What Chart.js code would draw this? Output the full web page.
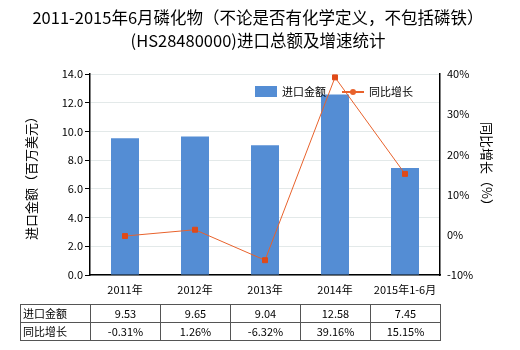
<!DOCTYPE html>
<html>
<head>
<meta charset="utf-8">
<script src="https://cdn.jsdelivr.net/npm/chart.js@4.4.0/dist/chart.umd.min.js"></script>
<style>
  body { margin: 0; background: #fff; }
  #wrap { position: relative; width: 520px; height: 350px; }
  #chart { position: absolute; left: 0; top: 0; }
  table {
    position: absolute; left: 20px; top: 304px;
    border-collapse: collapse;
    font-family: "Noto Sans CJK SC", "Noto Sans", sans-serif;
    font-size: 11px; color: #000;
  }
  td { border: 1px solid #555; height: 16px; padding: 0; line-height: 17px; text-align: center; width: 69px; }
  td.head { text-align: left; padding-left: 2px; width: 67px; }
</style>
</head>
<body>
<div id="wrap">
  <canvas id="chart" width="520" height="350"></canvas>
  <table id="tbl"></table>
</div>
<script>
// 数据
const years = ['2011年', '2012年', '2013年', '2014年', '2015年1-6月'];
const importValue = [9.53, 9.65, 9.04, 12.58, 7.45];   // 百万美元
const growthRate = [-0.31, 1.26, -6.32, 39.16, 15.15]; // %

const FONT = '"Noto Sans CJK SC", "Noto Sans", sans-serif';
const barColor = '#548dd4';
const lineColor = '#e8622c';

// 标题、轴标题、图例
const decorations = {
  id: 'decorations',
  afterDraw(chart) {
    const ctx = chart.ctx;
    ctx.save();
    ctx.fillStyle = '#000';
    ctx.textAlign = 'center';
    ctx.textBaseline = 'middle';
    ctx.font = '16.5px ' + FONT;
    ctx.fillText('2011-2015年6月磷化物（不论是否有化学定义，不包括磷铁）', 258, 18);
    ctx.fillText('(HS28480000)进口总额及增速统计', 258, 41);

    ctx.font = '13px ' + FONT;
    ctx.save();
    ctx.translate(31, 175);
    ctx.rotate(-Math.PI / 2);
    ctx.fillText('进口金额（百万美元）', 0, 0);
    ctx.restore();
    ctx.save();
    ctx.translate(487, 167);
    ctx.rotate(Math.PI / 2);
    ctx.fillText('同比增长（%）', 0, 0);
    ctx.restore();

    // 图例
    ctx.textAlign = 'left';
    ctx.font = '11px ' + FONT;
    ctx.fillStyle = barColor;
    ctx.fillRect(255, 86, 22, 11);
    ctx.fillStyle = '#000';
    ctx.fillText(chart.data.datasets[1].label, 282, 92);
    ctx.strokeStyle = lineColor;
    ctx.lineWidth = 2;
    ctx.beginPath();
    ctx.moveTo(342, 92);
    ctx.lineTo(364, 92);
    ctx.stroke();
    ctx.fillStyle = lineColor;
    ctx.beginPath();
    ctx.arc(353, 92, 3, 0, Math.PI * 2);
    ctx.fill();
    ctx.fillStyle = '#000';
    ctx.fillText(chart.data.datasets[0].label, 369, 92);
    ctx.restore();
  }
};

new Chart(document.getElementById('chart'), {
  data: {
    labels: years,
    datasets: [
      {
        type: 'line',
        label: '同比增长',
        data: growthRate,
        yAxisID: 'y1',
        borderColor: lineColor,
        borderWidth: 1,
        pointStyle: 'rect',
        pointRadius: 3.5,
        pointBackgroundColor: '#e04a18',
        pointBorderColor: '#e04a18',
        tension: 0,
        order: 0
      },
      {
        type: 'bar',
        label: '进口金额',
        data: importValue,
        yAxisID: 'y',
        backgroundColor: barColor,
        barPercentage: 0.4,
        categoryPercentage: 1,
        order: 1
      }
    ]
  },
  options: {
    responsive: false,
    animation: false,
    layout: { padding: { top: 74, left: 0, right: 0, bottom: 0 } },
    plugins: { legend: { display: false }, tooltip: { enabled: false } },
    scales: {
      x: {
        grid: { display: false, drawTicks: true, tickLength: 4, tickColor: '#000' },
        border: { color: '#000', width: 1.5 },
        ticks: { color: '#000', font: { family: FONT, size: 11 }, maxRotation: 0, padding: 4 },
        afterFit(s) { s.height = 75; }
      },
      y: {
        position: 'left',
        min: 0, max: 14,
        ticks: { stepSize: 2, color: '#000', font: { family: FONT, size: 11 }, padding: 2,
                 callback: v => v.toFixed(1) },
        grid: { color: '#e3e9e9', tickColor: '#000', tickLength: 5 },
        border: { color: '#000', width: 1.5 },
        afterFit(s) { s.width = 90; }
      },
      y1: {
        position: 'right',
        min: -10, max: 40,
        ticks: { stepSize: 10, color: '#000', font: { family: FONT, size: 11 }, padding: 2,
                 callback: v => v + '%' },
        grid: { display: false, drawOnChartArea: false, tickColor: '#000', tickLength: 5 },
        border: { color: '#000', width: 1.5 },
        afterFit(s) { s.width = 80; }
      }
    }
  },
  plugins: [decorations]
});

// 数据表
const tbl = document.getElementById('tbl');
function addRow(name, values) {
  const tr = document.createElement('tr');
  const th = document.createElement('td');
  th.className = 'head';
  th.textContent = name;
  tr.appendChild(th);
  values.forEach(v => {
    const td = document.createElement('td');
    td.textContent = v;
    tr.appendChild(td);
  });
  tbl.appendChild(tr);
}
addRow('进口金额', importValue.map(v => v.toFixed(2)));
addRow('同比增长', growthRate.map(v => v.toFixed(2) + '%'));
</script>
</body>
</html>
